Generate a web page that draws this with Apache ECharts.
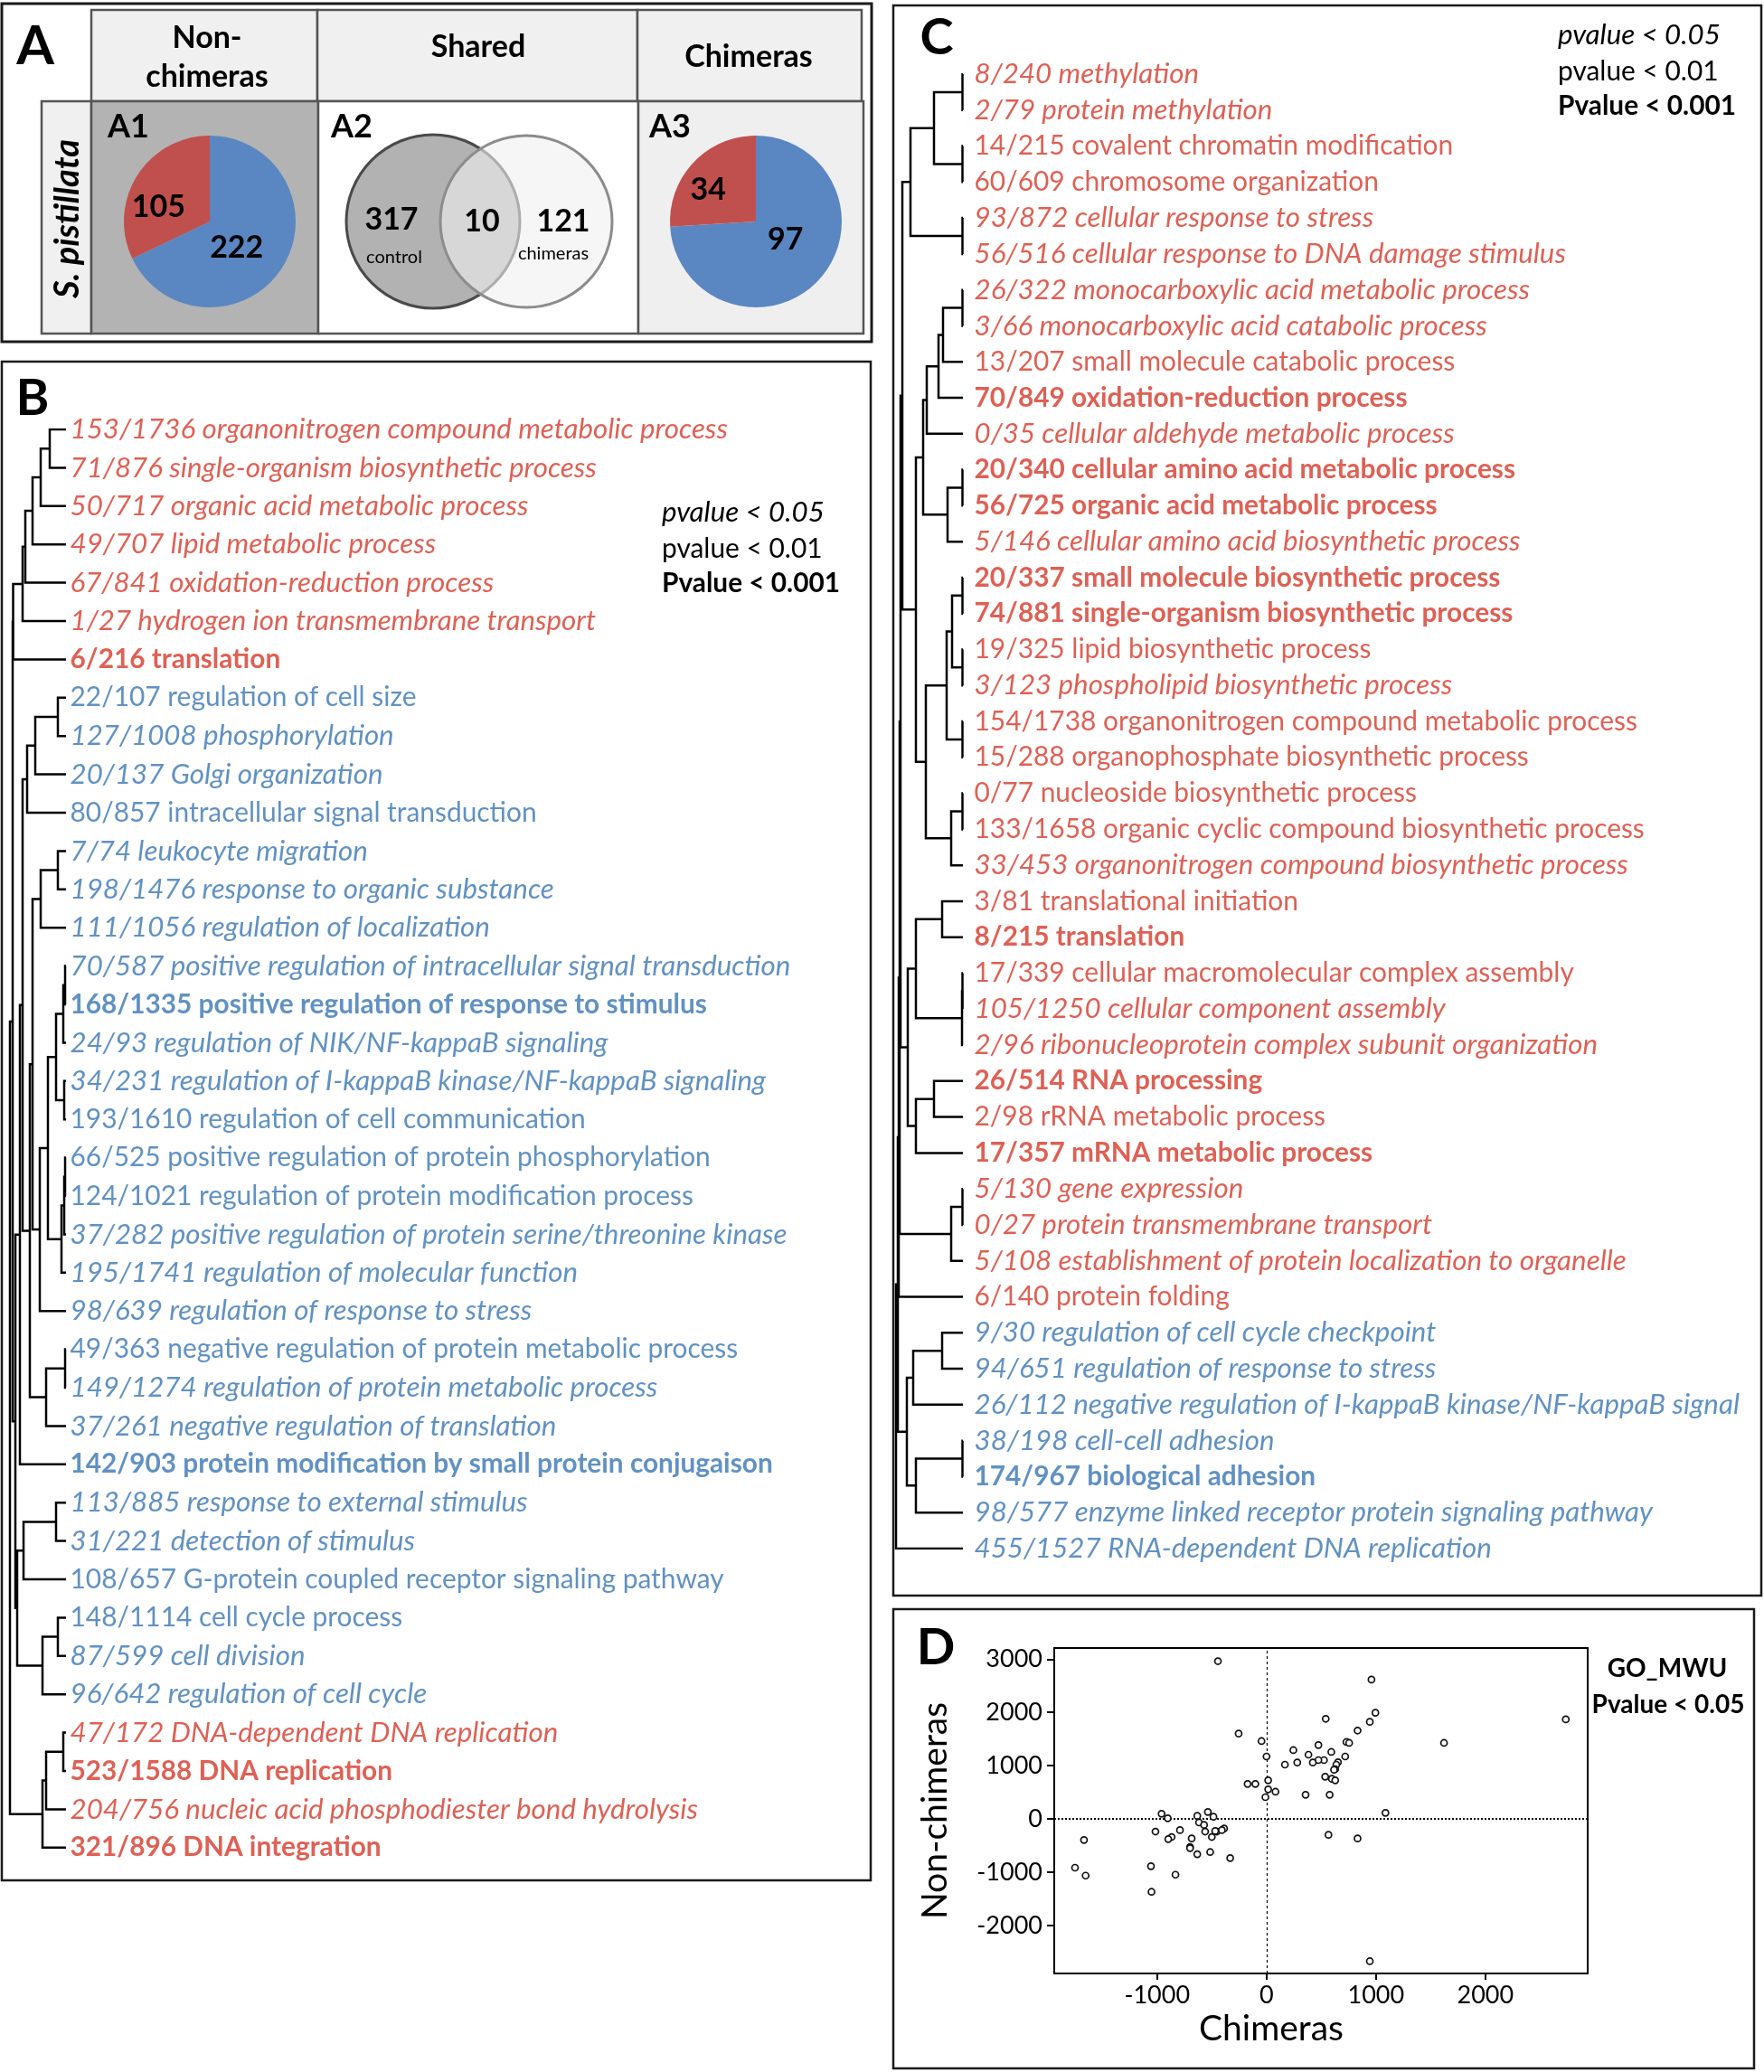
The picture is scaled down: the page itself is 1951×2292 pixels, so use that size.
<!DOCTYPE html>
<html><head><meta charset="utf-8">
<script src="https://cdn.jsdelivr.net/npm/echarts@6/dist/echarts.min.js"></script>
<style>html,body{margin:0;padding:0;background:#fff}#c{width:1951px;height:2292px}</style>
</head><body><div id="c"></div>
<script>
// ================= DATA =================
// Panel A
const headerLabels = ['Non-\nchimeras', 'Shared', 'Chimeras'];
const speciesLabel = 'S. pistillata';
const subPanelLabels = ['A1', 'A2', 'A3'];
const nonChimeraCounts = [222, 105];   // [blue (down), red (up)]
const chimeraCounts = [97, 34];        // [blue (down), red (up)]
const vennCounts = [317, 10, 121];     // control only, shared, chimeras only
const vennNames = ['control', 'chimeras'];

// Panel B: GO terms (dendrogram leaves), direction (1 = red, -1 = blue), significance (1: p<0.05, 2: p<0.01, 3: p<0.001)
const bTerms = [
 '153/1736 organonitrogen compound metabolic process',
 '71/876 single-organism biosynthetic process',
 '50/717 organic acid metabolic process',
 '49/707 lipid metabolic process',
 '67/841 oxidation-reduction process',
 '1/27 hydrogen ion transmembrane transport',
 '6/216 translation',
 '22/107 regulation of cell size',
 '127/1008 phosphorylation',
 '20/137 Golgi organization',
 '80/857 intracellular signal transduction',
 '7/74 leukocyte migration',
 '198/1476 response to organic substance',
 '111/1056 regulation of localization',
 '70/587 positive regulation of intracellular signal transduction',
 '168/1335 positive regulation of response to stimulus',
 '24/93 regulation of NIK/NF-kappaB signaling',
 '34/231 regulation of I-kappaB kinase/NF-kappaB signaling',
 '193/1610 regulation of cell communication',
 '66/525 positive regulation of protein phosphorylation',
 '124/1021 regulation of protein modification process',
 '37/282 positive regulation of protein serine/threonine kinase',
 '195/1741 regulation of molecular function',
 '98/639 regulation of response to stress',
 '49/363 negative regulation of protein metabolic process',
 '149/1274 regulation of protein metabolic process',
 '37/261 negative regulation of translation',
 '142/903 protein modification by small protein conjugaison',
 '113/885 response to external stimulus',
 '31/221 detection of stimulus',
 '108/657 G-protein coupled receptor signaling pathway',
 '148/1114 cell cycle process',
 '87/599 cell division',
 '96/642 regulation of cell cycle',
 '47/172 DNA-dependent DNA replication',
 '523/1588 DNA replication',
 '204/756 nucleic acid phosphodiester bond hydrolysis',
 '321/896 DNA integration'
];
const bDir = [1,1,1,1,1,1,1,-1,-1,-1,-1,-1,-1,-1,-1,-1,-1,-1,-1,-1,-1,-1,-1,-1,-1,-1,-1,-1,-1,-1,-1,-1,-1,-1,1,1,1,1];
const bSig = [1,1,1,1,1,1,3,2,1,1,2,1,1,1,1,3,1,1,2,2,2,1,1,1,2,1,1,3,1,1,2,2,1,1,1,3,1,3];
// merges: [childA, childB, height]; leaves 0..37, merged nodes 38..
const bMerges = [
 [0,1,18],[38,2,28],[39,3,37],[40,4,45],[41,5,48],[42,6,58.5],
 [7,8,9],[44,9,34],[45,10,43],
 [11,12,9],[47,13,28],
 [14,15,1],[49,16,3],[17,18,2],[50,51,11],
 [19,20,1],[53,21,2],[54,22,5],[52,55,20],[56,23,29],
 [24,25,1],[58,26,22],
 [48,57,37],[60,59,40],[46,61,48],[62,27,51],
 [28,29,11],[64,30,47],[31,32,9],[66,33,26],[65,67,54],
 [63,68,56],[43,69,59],
 [34,35,3],[71,36,22],[72,37,26],
 [70,73,62]
];

// Panel C
const cTerms = [
 '8/240 methylation',
 '2/79 protein methylation',
 '14/215 covalent chromatin modification',
 '60/609 chromosome organization',
 '93/872 cellular response to stress',
 '56/516 cellular response to DNA damage stimulus',
 '26/322 monocarboxylic acid metabolic process',
 '3/66 monocarboxylic acid catabolic process',
 '13/207 small molecule catabolic process',
 '70/849 oxidation-reduction process',
 '0/35 cellular aldehyde metabolic process',
 '20/340 cellular amino acid metabolic process',
 '56/725 organic acid metabolic process',
 '5/146 cellular amino acid biosynthetic process',
 '20/337 small molecule biosynthetic process',
 '74/881 single-organism biosynthetic process',
 '19/325 lipid biosynthetic process',
 '3/123 phospholipid biosynthetic process',
 '154/1738 organonitrogen compound metabolic process',
 '15/288 organophosphate biosynthetic process',
 '0/77 nucleoside biosynthetic process',
 '133/1658 organic cyclic compound biosynthetic process',
 '33/453 organonitrogen compound biosynthetic process',
 '3/81 translational initiation',
 '8/215 translation',
 '17/339 cellular macromolecular complex assembly',
 '105/1250 cellular component assembly',
 '2/96 ribonucleoprotein complex subunit organization',
 '26/514 RNA processing',
 '2/98 rRNA metabolic process',
 '17/357 mRNA metabolic process',
 '5/130 gene expression',
 '0/27 protein transmembrane transport',
 '5/108 establishment of protein localization to organelle',
 '6/140 protein folding',
 '9/30 regulation of cell cycle checkpoint',
 '94/651 regulation of response to stress',
 '26/112 negative regulation of I-kappaB kinase/NF-kappaB signal',
 '38/198 cell-cell adhesion',
 '174/967 biological adhesion',
 '98/577 enzyme linked receptor protein signaling pathway',
 '455/1527 RNA-dependent DNA replication'
];
const cDir = [1,1,1,1,1,1,1,1,1,1,1,1,1,1,1,1,1,1,1,1,1,1,1,1,1,1,1,1,1,1,1,1,1,1,1,-1,-1,-1,-1,-1,-1,-1];
const cSig = [1,1,2,2,1,1,1,1,2,3,1,3,3,1,3,3,2,1,2,2,2,2,1,2,3,2,1,1,3,2,3,1,1,1,2,1,1,1,1,3,1,1];
// leaves 0..41, merged nodes 42..
const cMerges = [
 [0,1,0.5],[2,3,0.5],[42,43,32],[4,5,0.5],[44,45,58],
 [6,7,0.5],[47,8,22],[48,9,27],[49,10,40],
 [11,12,0.5],[51,13,17],[50,52,44],
 [14,15,0.5],[16,17,0.5],[54,55,12],[18,19,0.5],[56,57,18],
 [20,21,0.5],[59,22,13],[58,60,41],[53,61,52],[46,62,67],
 [23,24,23],[25,26,0.5],[65,27,1],[64,66,52],
 [28,29,32],[68,30,52],[67,69,61],
 [31,32,0.5],[71,33,13],
 [35,36,23],[73,37,55],[38,39,0.5],[75,40,52],[74,76,62],
 [63,70,69],[78,72,70],[79,34,71],[80,77,72],[81,41,74]
];

const legendLabels = ['pvalue < 0.05', 'pvalue < 0.01', 'Pvalue < 0.001'];

// Panel D: GO_MWU delta-rank scatter
const chimerasX = [-444,959,995,541,944,2735,832,-255,-46,730,755,1622,474,245,592,383,0,719,525,474,653,281,423,168,638,628,617,536,597,628,15,-173,-102,15,82,357,577,-10,1087,-536,-959,-633,-485,-903,-617,-571,-1015,-561,-454,-469,-791,-388,-408,566,-1668,-867,-898,-684,-500,832,-699,-699,-515,-633,-332,-1750,-1056,-1653,-832,-1051,944];
const nonChimerasY = [2962,2616,1993,1880,1823,1869,1659,1602,1461,1444,1427,1427,1387,1291,1257,1206,1172,1172,1104,1104,1065,1059,1059,1019,1019,934,923,793,753,725,725,657,657,555,510,453,453,408,113,130,96,57,40,11,-68,-113,-238,-238,-238,-227,-210,-181,-210,-300,-396,-340,-379,-368,-340,-368,-527,-549,-623,-663,-736,-917,-889,-1065,-1048,-1370,-2673];
const dTicksX = [-1000, 0, 1000, 2000];
const dTicksY = [-2000, -1000, 0, 1000, 2000, 3000];

// ================= RENDER =================
const FONT = 'Lato, "Open Sans", sans-serif';
const RED = '#d7382a', BLUE = '#3a76b4';
const PIE_BLUE = '#5a87c1', PIE_RED = '#c0504d';

const mctx = document.createElement('canvas').getContext('2d');
function measure(text, style, weight, size) {
  mctx.font = style + ' ' + weight + ' ' + size + 'px Lato';
  return mctx.measureText(text).width;
}
function fit(text, target, style, weight) {
  return Math.round(100 * target / measure(text, style, weight, 100) * 10) / 10;
}
// font sizes matched to the widths of reference lines
const sizeItalic = fit(bTerms[0], 728, 'italic', 'normal');
const sizeNormal = fit(cTerms[18], 734, 'normal', 'normal');
const sizeBold = fit(bTerms[15], 704, 'normal', 'bold');
const sigSize = [0, sizeItalic, sizeNormal, sizeBold];

function termStyle(dir, sig) {
  return {
    color: dir > 0 ? RED : BLUE,
    fontStyle: sig === 1 ? 'italic' : 'normal',
    fontWeight: sig === 3 ? 'bold' : 'normal',
    fontSize: sigSize[sig]
  };
}
function buildTree(nLeaves, merges) {
  const nodes = [];
  for (let i = 0; i < nLeaves; i++) nodes.push({ d: 0, y: i });
  const segs = [];
  merges.forEach(([a, b, h]) => {
    const A = nodes[a], B = nodes[b];
    segs.push({ coords: [[A.d, A.y], [h, A.y], [h, B.y], [B.d, B.y]] });
    nodes.push({ d: h, y: (A.y + B.y) / 2 });
  });
  return segs;
}
function leafSeries(terms, dirs, sigs, axisIdx, dist) {
  return {
    type: 'scatter', xAxisIndex: axisIdx, yAxisIndex: axisIdx, silent: true, clip: false,
    symbolSize: 1, itemStyle: { color: 'rgba(0,0,0,0)' }, z: 5,
    label: { show: true, position: 'right', distance: dist, formatter: '{b}', fontFamily: FONT },
    data: terms.map((t, i) => ({ name: t, value: [0, i], label: termStyle(dirs[i], sigs[i]) }))
  };
}
function txt(x, y, text, size, opts) {
  opts = opts || {};
  return {
    type: 'text', x: x, y: y, z: 20, rotation: opts.rotation || 0, silent: true,
    style: {
      text: text, fontSize: size, fontFamily: FONT,
      fontWeight: opts.weight || 'normal', fontStyle: opts.style || 'normal',
      fill: opts.color || '#000',
      align: opts.align || 'center', verticalAlign: 'middle',
      textAlign: opts.align || 'center', textVerticalAlign: 'middle',
      lineHeight: opts.lineHeight
    }
  };
}
function rect(x, y, w, h, fill, stroke, lw) {
  return { type: 'rect', z: 0, silent: true, shape: { x: x, y: y, width: w, height: h },
    style: { fill: fill, stroke: stroke, lineWidth: lw } };
}

const bSegs = buildTree(bTerms.length, bMerges);
const cSegs = buildTree(cTerms.length, cMerges);

const graphics = [
  // panel A frame & cells
  rect(2, 4, 962, 374, '#fff', '#1a1a1a', 3),
  rect(101, 11, 250, 101, '#f0f0f0', '#555', 2.5),
  rect(351, 11, 354, 101, '#f0f0f0', '#555', 2.5),
  rect(705, 11, 248, 101, '#f0f0f0', '#555', 2.5),
  rect(46, 112, 55, 257, '#f0f0f0', '#555', 2.5),
  rect(101, 112, 251, 257, '#b3b3b3', '#555', 2.5),
  rect(352, 112, 354, 257, '#ffffff', '#555', 2.5),
  rect(706, 112, 249, 257, '#efefef', '#555', 2.5),
  // Venn
  { type: 'circle', z: 1, silent: true, shape: { cx: 479, cy: 245, r: 96 }, style: { fill: '#b2b2b2', stroke: '#4a4a4a', lineWidth: 3 } },
  { type: 'circle', z: 1, silent: true, shape: { cx: 582, cy: 245, r: 95 }, style: { fill: 'rgba(240,240,240,0.6)', stroke: '#8c8c8c', lineWidth: 3 } },
  // other panel frames
  rect(2, 400, 961, 1680, 'rgba(0,0,0,0)', '#1a1a1a', 2.5),
  rect(988, 6, 960, 1759, 'rgba(0,0,0,0)', '#1a1a1a', 2.5),
  rect(988, 1780, 952, 508, 'rgba(0,0,0,0)', '#1a1a1a', 2.5),
  // panel letters
  txt(39, 52, 'A', 60, { weight: 'bold' }),
  txt(36, 441, 'B', 56, { weight: 'bold' }),
  txt(1036, 42, 'C', 56, { weight: 'bold' }),
  txt(1035, 1823, 'D', 56, { weight: 'bold' }),
  // headers
  txt(229, 64, headerLabels[0], 34, { weight: 'bold', lineHeight: 43 }),
  txt(529, 52, headerLabels[1], 34, { weight: 'bold' }),
  txt(828, 63, headerLabels[2], 34, { weight: 'bold' }),
  txt(75, 242, speciesLabel, 38, { weight: 'bold', style: 'italic', rotation: Math.PI / 2 }),
  txt(142, 140, subPanelLabels[0], 36, { weight: 'bold' }),
  txt(389, 140, subPanelLabels[1], 36, { weight: 'bold' }),
  txt(741, 140, subPanelLabels[2], 36, { weight: 'bold' }),
  // Venn numbers
  txt(433, 243, String(vennCounts[0]), 34, { weight: 'bold' }),
  txt(533, 245, String(vennCounts[1]), 34, { weight: 'bold' }),
  txt(623, 245, String(vennCounts[2]), 34, { weight: 'bold' }),
  txt(436, 285, vennNames[0], 20),
  txt(612, 281, vennNames[1], 20),
  // legends B and C
  txt(732, 567, legendLabels[0], sizeItalic, { align: 'left', style: 'italic' }),
  txt(732, 607, legendLabels[1], sizeNormal, { align: 'left' }),
  txt(732, 645, legendLabels[2], sizeBold, { align: 'left', weight: 'bold' }),
  txt(1723, 39, legendLabels[0], sizeItalic, { align: 'left', style: 'italic' }),
  txt(1723, 79, legendLabels[1], sizeNormal, { align: 'left' }),
  txt(1723, 117, legendLabels[2], sizeBold, { align: 'left', weight: 'bold' }),
  // D annotation
  txt(1844, 1846, 'GO_MWU', 28, { weight: 'bold' }),
  txt(1845, 1886, 'Pvalue < 0.05', 28, { weight: 'bold' })
];

const pieLabel = { show: true, position: 'inside', formatter: '{c}', fontSize: 34, fontWeight: 'bold', color: '#000', fontFamily: FONT };
const plainNum = (v) => String(v);

const option = {
  animation: false,
  backgroundColor: '#fff',
  textStyle: { fontFamily: FONT },
  graphic: { elements: graphics },
  grid: [
    { left: 0, top: 475, width: 73, height: 42.4 * (bTerms.length - 1) },
    { left: 985, top: 82, width: 80, height: 39.78 * (cTerms.length - 1) },
    { left: 1166, top: 1823, width: 590, height: 360, show: true, borderColor: '#000', borderWidth: 2 }
  ],
  xAxis: [
    { gridIndex: 0, type: 'value', min: 0, max: 73, inverse: true, show: false },
    { gridIndex: 1, type: 'value', min: 0, max: 80, inverse: true, show: false },
    { gridIndex: 2, type: 'value', min: -1940, max: 2935,
      axisLine: { show: true, onZero: false, lineStyle: { color: '#000', width: 2 } },
      axisTick: { show: true, customValues: dTicksX, length: 7, lineStyle: { color: '#000', width: 2 } },
      axisLabel: { customValues: dTicksX, formatter: plainNum, fontSize: 27, color: '#000', margin: 11, fontFamily: FONT },
      splitLine: { show: false },
      name: 'Chimeras', nameLocation: 'middle', nameGap: 42,
      nameTextStyle: { fontSize: 39, color: '#000', fontFamily: FONT, padding: [0, 110, 0, 0] } }
  ],
  yAxis: [
    { gridIndex: 0, type: 'value', min: 0, max: bTerms.length - 1, inverse: true, show: false },
    { gridIndex: 1, type: 'value', min: 0, max: cTerms.length - 1, inverse: true, show: false },
    { gridIndex: 2, type: 'value', min: -2903, max: 3209,
      axisLine: { show: true, onZero: false, lineStyle: { color: '#000', width: 2 } },
      axisTick: { show: true, customValues: dTicksY, length: 8, lineStyle: { color: '#000', width: 2 } },
      axisLabel: { customValues: dTicksY, formatter: plainNum, fontSize: 27, color: '#000', margin: 13, fontFamily: FONT },
      splitLine: { show: false },
      name: 'Non-chimeras', nameLocation: 'middle', nameRotate: 90, nameGap: 112,
      nameTextStyle: { fontSize: 39, color: '#000', fontFamily: FONT } }
  ],
  series: [
    { type: 'pie', center: [232, 245], radius: 95, startAngle: 90, clockwise: true, silent: true,
      label: pieLabel, labelLine: { show: false }, z: 5,
      data: [
        { name: 'down', value: nonChimeraCounts[0], itemStyle: { color: PIE_BLUE }, label: { offset: [-13, 2] } },
        { name: 'up', value: nonChimeraCounts[1], itemStyle: { color: PIE_RED }, label: { offset: [-14, 11] } }
      ] },
    { type: 'pie', center: [836, 245], radius: 95, startAngle: 90, clockwise: true, silent: true,
      label: pieLabel, labelLine: { show: false }, z: 5,
      data: [
        { name: 'down', value: chimeraCounts[0], itemStyle: { color: PIE_BLUE }, label: { offset: [-4, -15] } },
        { name: 'up', value: chimeraCounts[1], itemStyle: { color: PIE_RED }, label: { offset: [-16, 0] } }
      ] },
    { type: 'lines', coordinateSystem: 'cartesian2d', xAxisIndex: 0, yAxisIndex: 0, polyline: true, silent: true, z: 4,
      lineStyle: { color: '#000', width: 2.5, opacity: 1 }, data: bSegs },
    { type: 'lines', coordinateSystem: 'cartesian2d', xAxisIndex: 1, yAxisIndex: 1, polyline: true, silent: true, z: 4,
      lineStyle: { color: '#000', width: 2.5, opacity: 1 }, data: cSegs },
    leafSeries(bTerms, bDir, bSig, 0, 4),
    leafSeries(cTerms, cDir, cSig, 1, 12),
    { type: 'scatter', xAxisIndex: 2, yAxisIndex: 2, silent: true, symbol: 'circle', symbolSize: 7, z: 6,
      itemStyle: { color: '#fff', borderColor: '#111', borderWidth: 1.7, opacity: 1 },
      data: chimerasX.map((x, i) => [x, nonChimerasY[i]]),
      markLine: { silent: true, symbol: ['none', 'none'], label: { show: false }, animation: false,
        data: [
          { xAxis: 0, lineStyle: { type: [3, 3], width: 1.2, color: '#000' } },
          { yAxis: 0, lineStyle: { type: [2, 2], width: 2, color: '#000' } }
        ] } }
  ]
};

const chart = echarts.init(document.getElementById('c'), null, { renderer: 'canvas', width: 1951, height: 2292 });
chart.setOption(option);
</script>
</body></html>
